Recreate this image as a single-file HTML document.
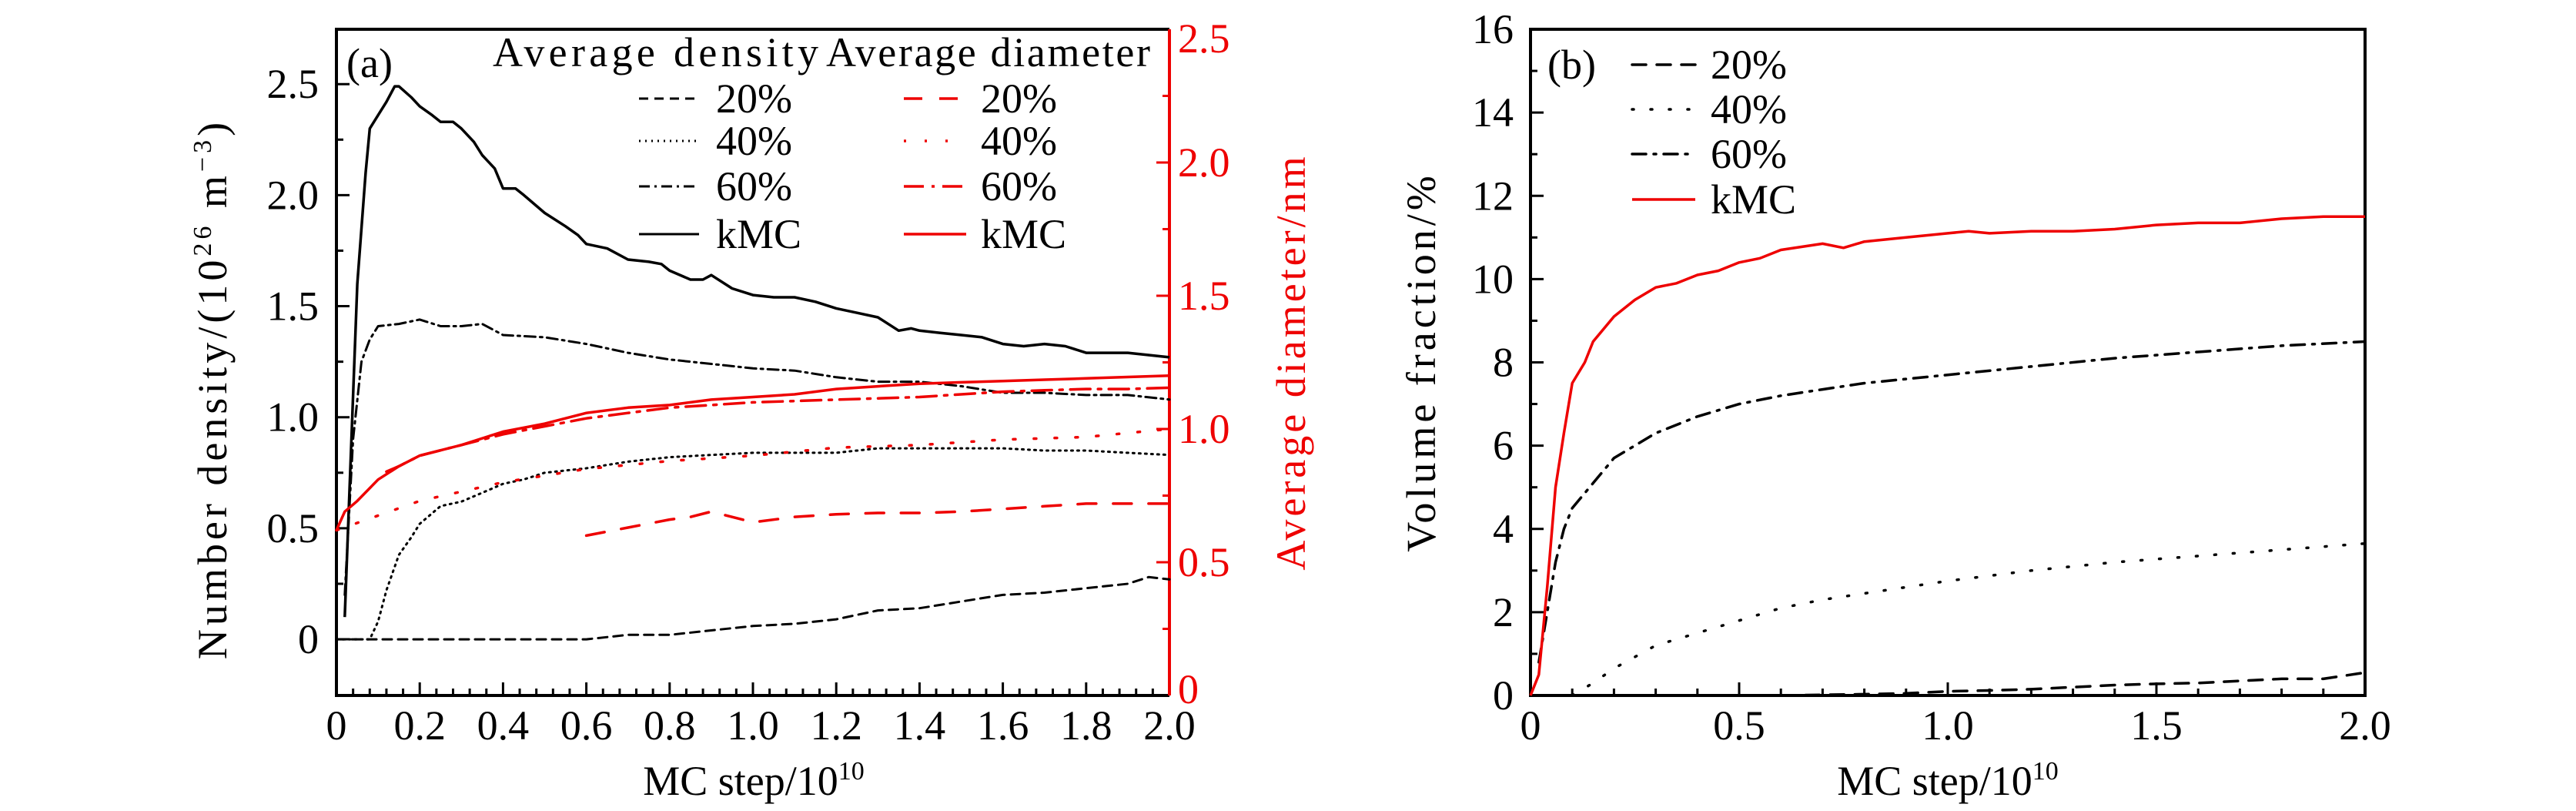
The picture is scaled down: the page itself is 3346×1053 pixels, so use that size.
<!DOCTYPE html>
<html><head><meta charset="utf-8"><style>
html,body{margin:0;padding:0;background:#fff;}
svg{display:block;}
svg text{font-family:"Liberation Serif","DejaVu Serif",serif;}
</style></head><body>
<svg id="fig" width="3346" height="1053" viewBox="0 0 3346 1053" xmlns="http://www.w3.org/2000/svg" font-family="Liberation Serif, serif">
<g id="pa"></g>
<g id="pb"></g>
</svg>
<script>
// ---- Panel (a) data ----
const aDensKmcX = [0.02,0.03,0.05,0.07,0.08,0.1,0.12,0.14,0.15,0.18,0.2,0.23,0.25,0.28,0.3,0.33,0.35,0.38,0.4,0.43,0.45,0.5,0.55,0.58,0.6,0.65,0.7,0.75,0.78,0.8,0.85,0.88,0.9,0.95,1.0,1.05,1.1,1.15,1.2,1.25,1.3,1.35,1.38,1.4,1.45,1.5,1.55,1.6,1.65,1.7,1.75,1.8,1.85,1.9,1.95,2.0];
const aDensKmcY = [0.1,0.6,1.6,2.1,2.3,2.36,2.42,2.49,2.49,2.44,2.4,2.36,2.33,2.33,2.3,2.24,2.18,2.12,2.03,2.03,2.0,1.92,1.86,1.82,1.78,1.76,1.71,1.70,1.69,1.66,1.62,1.62,1.64,1.58,1.55,1.54,1.54,1.52,1.49,1.47,1.45,1.39,1.40,1.39,1.38,1.37,1.36,1.33,1.32,1.33,1.32,1.29,1.29,1.29,1.28,1.27];
const aDens60X = [0.02,0.04,0.06,0.08,0.1,0.15,0.2,0.25,0.3,0.35,0.4,0.5,0.6,0.7,0.8,0.9,1.0,1.1,1.2,1.3,1.4,1.5,1.6,1.7,1.8,1.9,2.0];
const aDens60Y = [0.2,0.9,1.25,1.35,1.41,1.42,1.44,1.41,1.41,1.42,1.37,1.36,1.33,1.29,1.26,1.24,1.22,1.21,1.18,1.16,1.16,1.14,1.11,1.11,1.10,1.10,1.08];
const aDens40X = [0,0.04,0.08,0.1,0.12,0.15,0.18,0.2,0.25,0.3,0.35,0.4,0.45,0.5,0.6,0.7,0.8,0.9,1.0,1.1,1.2,1.3,1.4,1.5,1.6,1.7,1.8,1.9,2.0];
const aDens40Y = [0,0,0,0.08,0.22,0.38,0.46,0.52,0.6,0.62,0.66,0.7,0.72,0.75,0.77,0.8,0.82,0.83,0.84,0.84,0.84,0.86,0.86,0.86,0.86,0.85,0.85,0.84,0.83];
const aDens20X = [0,0.6,0.7,0.8,0.9,1.0,1.1,1.2,1.3,1.4,1.5,1.6,1.7,1.8,1.9,1.95,2.0];
const aDens20Y = [0,0,0.02,0.02,0.04,0.06,0.07,0.09,0.13,0.14,0.17,0.2,0.21,0.23,0.25,0.28,0.27];
const aDiaKmcX = [0,0.02,0.05,0.1,0.15,0.2,0.3,0.4,0.5,0.6,0.7,0.8,0.9,1.0,1.1,1.2,1.3,1.4,1.5,1.6,1.7,1.8,1.9,2.0];
const aDiaKmcY = [0.62,0.69,0.73,0.81,0.86,0.9,0.94,0.99,1.02,1.06,1.08,1.09,1.11,1.12,1.13,1.15,1.16,1.17,1.175,1.18,1.185,1.19,1.195,1.20];
const aDia60X = [0.12,0.15,0.2,0.3,0.4,0.5,0.6,0.7,0.8,0.9,1.0,1.1,1.2,1.3,1.4,1.5,1.6,1.7,1.8,1.9,2.0];
const aDia60Y = [0.84,0.86,0.9,0.94,0.98,1.01,1.04,1.06,1.08,1.09,1.10,1.105,1.11,1.115,1.12,1.13,1.14,1.145,1.15,1.15,1.155];
const aDia40X = [0,0.2,0.4,0.6,0.8,1.0,1.2,1.4,1.6,1.8,2.0];
const aDia40Y = [0.62,0.73,0.80,0.85,0.88,0.90,0.93,0.94,0.96,0.97,1.0];
const aDia20X = [0.6,0.7,0.8,0.85,0.9,1.0,1.1,1.2,1.3,1.4,1.5,1.6,1.7,1.8,1.9,2.0];
const aDia20Y = [0.60,0.63,0.66,0.67,0.69,0.65,0.67,0.68,0.685,0.685,0.69,0.70,0.71,0.72,0.72,0.72];
const aXTicks = ["0","0.2","0.4","0.6","0.8","1.0","1.2","1.4","1.6","1.8","2.0"];
const aYTicks = ["0","0.5","1.0","1.5","2.0","2.5"];
const aY2Ticks = ["0","0.5","1.0","1.5","2.0","2.5"];
// ---- Panel (b) data ----
const bKmcX = [0,0.02,0.04,0.06,0.08,0.1,0.13,0.15,0.2,0.25,0.3,0.35,0.4,0.45,0.5,0.55,0.6,0.7,0.75,0.8,0.9,1.0,1.05,1.1,1.2,1.3,1.4,1.5,1.6,1.7,1.8,1.9,2.0];
const bKmcY = [0,0.5,2.6,5.0,6.3,7.5,8.0,8.5,9.1,9.5,9.8,9.9,10.1,10.2,10.4,10.5,10.7,10.85,10.75,10.9,11.0,11.1,11.15,11.1,11.15,11.15,11.2,11.3,11.35,11.35,11.45,11.5,11.5];
const b60X = [0.02,0.04,0.06,0.08,0.1,0.15,0.2,0.25,0.3,0.4,0.5,0.6,0.7,0.8,0.9,1.0,1.2,1.4,1.6,1.8,2.0];
const b60Y = [0.8,2.0,3.2,4.0,4.5,5.1,5.7,6.0,6.3,6.7,7.0,7.2,7.35,7.5,7.6,7.7,7.9,8.1,8.25,8.4,8.5];
const b40X = [0.1,0.15,0.2,0.3,0.4,0.5,0.6,0.7,0.8,0.9,1.0,1.2,1.4,1.6,1.8,2.0];
const b40Y = [0,0.3,0.65,1.2,1.5,1.8,2.1,2.3,2.45,2.6,2.75,3.0,3.2,3.35,3.5,3.65];
const b20X = [0.6,0.8,0.9,1.0,1.1,1.2,1.3,1.4,1.5,1.6,1.7,1.8,1.9,2.0];
const b20Y = [0,0.03,0.05,0.1,0.12,0.15,0.2,0.25,0.28,0.3,0.35,0.4,0.4,0.55];
const bXTicks = ["0","0.5","1.0","1.5","2.0"];
const bYTicks = ["0","2","4","6","8","10","12","14","16"];

const NS = "http://www.w3.org/2000/svg";
const FS = 54;
function mk(parent, tag, attrs, txt){
  const e = document.createElementNS(NS, tag);
  for (const k in attrs) e.setAttribute(k, attrs[k]);
  if (txt !== undefined) e.textContent = txt;
  parent.appendChild(e);
  return e;
}
const pa = document.getElementById('pa');
const pb = document.getElementById('pb');

const A = {l:437, r:1519, t:38, b:903};
const ax = v => A.l + v/2*(A.r-A.l);
const ay = v => A.b - (v+0.253)/3.0*(A.b-A.t);
const ay2 = v => A.b - v/2.5*(A.b-A.t);
const B = {l:1988, r:3072, t:38, b:903};
const bx = v => B.l + v/2*(B.r-B.l);
const by = v => B.b - v/16*(B.b-B.t);

function series(parent, xs, ys, fx, fy, color, dash, w, name){
  let d = xs.map((x,i)=>(i?'L':'M')+fx(x).toFixed(1)+','+fy(ys[i]).toFixed(1)).join(' ');
  const p = mk(parent,'path',{d:d,fill:'none',stroke:color,'stroke-width':w,'stroke-dasharray':dash,'stroke-linecap':dash?'round':'butt','stroke-linejoin':'round'});
  
  
  return p;
}
function txt(parent, x, y, s, size, anchor, color, name){
  const t = mk(parent,'text',{x:x,y:y,'font-size':size,'text-anchor':anchor||'start',fill:color||'#000','font-family':'Liberation Serif, serif'}, s);
  
  
  return t;
}

// ---------- Panel a ----------
for (let i=0;i<=50;i++){
  const v = i*0.04, x = ax(v), major = (i%5===0);
  const tk = mk(pa,'line',{x1:x,x2:x,y1:A.b,y2:A.b-(major?17:9),stroke:'#000','stroke-width':3});
  
  
}
aXTicks.forEach((s,i)=>{ txt(pa, ax(i*0.2), 960, s, FS, 'middle', '#000', 'x-tick-label-a'); });
for (let i=0;i<=10;i++){
  const v = i*0.25, y = ay(v), major = (i%2===0);
  const tk = mk(pa,'line',{x1:A.l,x2:A.l+(major?17:9),y1:y,y2:y,stroke:'#000','stroke-width':3});
  
  
}
aYTicks.forEach((s,i)=>{ txt(pa, 414, ay(i*0.5)+18, s, FS, 'end', '#000', 'y-tick-label-a'); });
for (let i=0;i<=10;i++){
  const v = i*0.25, y = ay2(v), major = (i%2===0);
  const tk = mk(pa,'line',{x1:A.r,x2:A.r-(major?17:9),y1:y,y2:y,stroke:'#e00','stroke-width':3});
  
  
}
aY2Ticks.forEach((s,i)=>{ txt(pa, 1530, ay2(i*0.5)+ (i===0?10:(i===5?30:18)), s, FS, 'start', '#e00', 'y2-tick-label-a'); });
const fa1 = mk(pa,'path',{d:`M${A.r},${A.t} L${A.l},${A.t} L${A.l},${A.b} L${A.r},${A.b}`,fill:'none',stroke:'#000','stroke-width':4});


const fa2 = mk(pa,'line',{x1:A.r,x2:A.r,y1:A.t,y2:A.b,stroke:'#e00','stroke-width':4});



series(pa, aDens20X, aDens20Y, ax, ay, '#000', '12,8', 3, 'density-20');
series(pa, aDens40X, aDens40Y, ax, ay, '#000', '2,6', 3, 'density-40');
series(pa, aDens60X, aDens60Y, ax, ay, '#000', '14,6,3,6', 3, 'density-60');
series(pa, aDensKmcX, aDensKmcY, ax, ay, '#000', '', 3.5, 'density-kmc');
series(pa, aDia20X, aDia20Y, ax, ay2, '#e00', '24,22', 3.5, 'diameter-20');
series(pa, aDia40X, aDia40Y, ax, ay2, '#e00', '3,24', 3.5, 'diameter-40');
series(pa, aDia60X, aDia60Y, ax, ay2, '#e00', '26,10,4,10', 3.5, 'diameter-60');
series(pa, aDiaKmcX, aDiaKmcY, ax, ay2, '#e00', '', 3.5, 'diameter-kmc');

txt(pa, 450, 100, '(a)', FS, 'start', '#000', 'panel-label-a');
const t1 = txt(pa, 640, 86, 'Average density', FS, 'start', '#000', 'legend-title-density');
t1.setAttribute('textLength','423');
const t2 = txt(pa, 1073, 86, 'Average diameter', FS, 'start', '#000', 'legend-title-diameter');
t2.setAttribute('textLength','421');
const legRows = [[128,'20%','12,8','24,22'],[183,'40%','2,6','3,24'],[242,'60%','14,6,3,6','26,10,4,10'],[304,'kMC','','']];
legRows.forEach(r=>{
  const l1 = mk(pa,'line',{x1:830,x2:908,y1:r[0],y2:r[0],stroke:'#000','stroke-width':3,'stroke-dasharray':r[2]});
  
  
  txt(pa, 930, r[0]+18, r[1], FS, 'start', '#000', 'legend-label-density');
  const l2 = mk(pa,'line',{x1:1174,x2:1255,y1:r[0],y2:r[0],stroke:'#e00','stroke-width':3.5,'stroke-dasharray':r[3]});
  
  
  txt(pa, 1274, r[0]+18, r[1], FS, 'start', '#000', 'legend-label-diameter');
});
const xta = mk(pa,'text',{x:979,y:1032,'font-size':FS,'text-anchor':'middle','font-family':'Liberation Serif, serif'});


xta.innerHTML = 'MC step/10<tspan font-size="34" dy="-20">10</tspan>';
const yta = mk(pa,'text',{x:0,y:0,'font-size':FS,'text-anchor':'middle','letter-spacing':'5','font-family':'Liberation Serif, serif',transform:'translate(294,505) rotate(-90)'});


yta.innerHTML = 'Number density/(10<tspan font-size="34" dy="-20">26</tspan><tspan dy="20"> m</tspan><tspan font-size="34" dy="-20">−3</tspan><tspan dy="20">)</tspan>';
const y2ta = mk(pa,'text',{x:0,y:0,'font-size':FS,'text-anchor':'middle','letter-spacing':'4',fill:'#e00','font-family':'Liberation Serif, serif',transform:'translate(1695,470) rotate(-90)'}, 'Average diameter/nm');



// ---------- Panel b ----------
for (let i=0;i<=20;i++){
  const v=i*0.1, x=bx(v), major=(i%5===0);
  const tk = mk(pb,'line',{x1:x,x2:x,y1:B.b,y2:B.b-(major?17:9),stroke:'#000','stroke-width':3});
  
  
}
bXTicks.forEach((s,i)=>{ txt(pb, bx(i*0.5), 960, s, FS, 'middle', '#000', 'x-tick-label-b'); });
for (let i=0;i<=16;i++){
  const y=by(i), major=(i%2===0);
  const tk = mk(pb,'line',{x1:B.l,x2:B.l+(major?17:9),y1:y,y2:y,stroke:'#000','stroke-width':3});
  
  
}
bYTicks.forEach((s,i)=>{ txt(pb, 1966, by(i*2)+18, s, FS, 'end', '#000', 'y-tick-label-b'); });
const fb = mk(pb,'rect',{x:B.l,y:B.t,width:B.r-B.l,height:B.b-B.t,fill:'none',stroke:'#000','stroke-width':4});



series(pb, b20X, b20Y, bx, by, '#000', '18,14', 3.5, 'volume-20');
series(pb, b40X, b40Y, bx, by, '#000', '2,22', 3.5, 'volume-40');
series(pb, b60X, b60Y, bx, by, '#000', '18,10,3,10', 3.5, 'volume-60');
series(pb, bKmcX, bKmcY, bx, by, '#e00', '', 3.5, 'volume-kmc');

txt(pb, 2010, 102, '(b)', FS, 'start', '#000', 'panel-label-b');
const legB = [[84,'20%','#000','18,14'],[142,'40%','#000','2,22'],[200,'60%','#000','18,10,3,10'],[259,'kMC','#e00','']];
legB.forEach(r=>{
  const l = mk(pb,'line',{x1:2120,x2:2202,y1:r[0],y2:r[0],stroke:r[2],'stroke-width':3.5,'stroke-dasharray':r[3],'stroke-linecap':r[3]?'round':'butt'});
  
  
  txt(pb, 2222, r[0]+18, r[1], FS, 'start', '#000', 'legend-label-b');
});
const xtb = mk(pb,'text',{x:2530,y:1032,'font-size':FS,'text-anchor':'middle','font-family':'Liberation Serif, serif'});


xtb.innerHTML = 'MC step/10<tspan font-size="34" dy="-20">10</tspan>';
const ytb = mk(pb,'text',{x:0,y:0,'font-size':FS,'text-anchor':'middle','letter-spacing':'5','font-family':'Liberation Serif, serif',transform:'translate(1864,470) rotate(-90)'}, 'Volume fraction/%');


</script>
</body></html>
